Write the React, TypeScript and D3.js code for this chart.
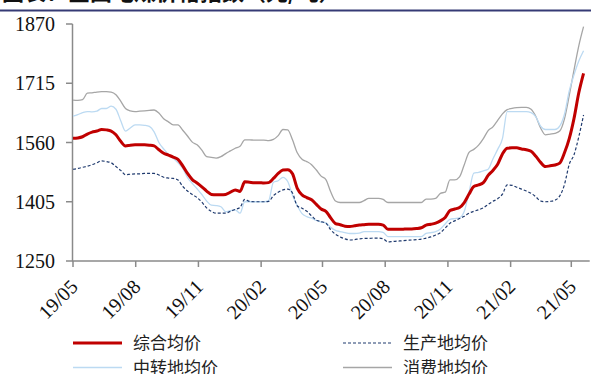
import React from "react";
import * as d3 from "d3";

// Weekly observations starting 2019-05-01
const startDate = new Date(2019, 4, 1);

const composite = [
  1571, 1572, 1575, 1582, 1587, 1590, 1594, 1593, 1590, 1580, 1563, 1551, 1553, 1554, 1554, 1554,
  1553, 1551, 1541, 1532, 1527, 1522, 1516, 1499, 1479, 1463, 1454, 1444, 1433, 1424, 1423, 1423,
  1424, 1430, 1436, 1432, 1457, 1456, 1455, 1455, 1454, 1455, 1466, 1479, 1488, 1489, 1478, 1440,
  1423, 1416, 1410, 1398, 1386, 1380, 1363, 1348, 1345, 1341, 1340, 1342, 1344, 1345, 1346, 1346,
  1346, 1344, 1333, 1333, 1333, 1333, 1334, 1334, 1335, 1337, 1344, 1346, 1349, 1355, 1364, 1382,
  1386, 1390, 1403, 1425, 1445, 1449, 1455, 1474, 1487, 1503, 1530, 1545, 1546, 1546, 1543, 1541,
  1537, 1524, 1508, 1497, 1499, 1501, 1506, 1533, 1570, 1623, 1690, 1741,
];

const production = [
  1490, 1492, 1495, 1498, 1502, 1507, 1512, 1510, 1507, 1497, 1487, 1476, 1477, 1478, 1478, 1479,
  1479, 1479, 1475, 1469, 1467, 1466, 1462, 1445, 1433, 1424, 1416, 1404, 1389, 1380, 1375, 1375,
  1375, 1380, 1385, 1390, 1411, 1406, 1405, 1405, 1405, 1406, 1421, 1430, 1436, 1438, 1428, 1394,
  1388, 1380, 1368, 1357, 1353, 1349, 1332, 1320, 1313, 1308, 1305, 1306, 1308, 1309, 1309, 1310,
  1310, 1308, 1300, 1301, 1302, 1303, 1304, 1305, 1306, 1307, 1310, 1313, 1318, 1324, 1336, 1349,
  1355, 1361, 1367, 1375, 1380, 1384, 1389, 1398, 1406, 1413, 1425, 1449, 1448, 1443, 1438, 1433,
  1427, 1418, 1407, 1405, 1406, 1409, 1420, 1450, 1503, 1528, 1575, 1632,
];

const transit = [
  1629, 1633, 1638, 1641, 1640, 1642, 1649, 1649, 1655, 1647, 1617, 1590, 1598, 1606, 1606, 1605,
  1602, 1588, 1560, 1543, 1529, 1519, 1507, 1492, 1468, 1453, 1439, 1424, 1407, 1396, 1395, 1392,
  1379, 1382, 1384, 1375, 1405, 1405, 1405, 1405, 1405, 1408, 1456, 1460, 1469, 1458, 1422, 1395,
  1374, 1366, 1362, 1356, 1352, 1350, 1338, 1330, 1327, 1324, 1322, 1322, 1323, 1327, 1327, 1327,
  1327, 1325, 1314, 1314, 1314, 1314, 1314, 1314, 1314, 1314, 1322, 1324, 1327, 1334, 1347, 1359,
  1361, 1363, 1380, 1430, 1480, 1482, 1486, 1490, 1517, 1542, 1570, 1641, 1641, 1641, 1641, 1641,
  1638, 1627, 1603, 1594, 1594, 1594, 1603, 1634, 1695, 1737, 1773, 1800,
];

const consumption = [
  1671, 1670, 1672, 1689, 1690, 1692, 1693, 1693, 1692, 1685, 1668, 1649, 1643, 1641, 1642, 1643,
  1644, 1645, 1637, 1622, 1614, 1606, 1606, 1592, 1577, 1561, 1554, 1540, 1523, 1521, 1519, 1523,
  1531, 1538, 1545, 1550, 1567, 1567, 1566, 1566, 1566, 1565, 1568, 1578, 1594, 1593, 1567, 1533,
  1516, 1510, 1502, 1488, 1472, 1463, 1431, 1407, 1403, 1403, 1403, 1403, 1403, 1408, 1414, 1414,
  1414, 1411, 1403, 1403, 1403, 1403, 1403, 1403, 1403, 1403, 1412, 1412, 1414, 1427, 1430, 1462,
  1462, 1470, 1502, 1534, 1542, 1553, 1570, 1591, 1601, 1618, 1635, 1646, 1649, 1651, 1652, 1652,
  1647, 1628, 1598, 1580, 1582, 1584, 1590, 1622, 1683, 1750, 1813, 1863,
];

const yTicks = [1250, 1405, 1560, 1715, 1870];
const xTickLabels = ["19/05", "19/08", "19/11", "20/02", "20/05", "20/08", "20/11", "21/02", "21/05"];
const xTickDates = [
  new Date(2019, 4, 1), new Date(2019, 7, 1), new Date(2019, 10, 1), new Date(2020, 1, 1),
  new Date(2020, 4, 1), new Date(2020, 7, 1), new Date(2020, 10, 1), new Date(2021, 1, 1),
  new Date(2021, 4, 1),
];

const seriesNames = ["综合均价", "生产地均价", "中转地均价", "消费地均价"];

const dates = composite.map((_, i) => d3.timeDay.offset(startDate, 7 * i));

const W = 591;
const H = 374;

export default function App() {
  const x = d3
    .scaleTime()
    .domain([startDate, new Date(2021, 4, 28)])
    .range([73, 589.7]);
  const y = d3.scaleLinear().domain([1250, 1870]).range([261, 24]);

  const line = (vals: number[]) =>
    d3
      .line<number>()
      .x((_, i) => x(dates[i]))
      .y((v) => y(v))
      .curve(d3.curveMonotoneX)(vals) as string;

  const styles = [
    { data: composite, stroke: "#c00000", width: 3, dash: undefined },
    { data: production, stroke: "#1f3a6e", width: 1.2, dash: "3,2" },
    { data: transit, stroke: "#bcdaf2", width: 1.3, dash: undefined },
    { data: consumption, stroke: "#a6a6a6", width: 1.3, dash: undefined },
  ];
  const drawOrder = [3, 2, 1, 0];

  const axisColor = "#8a8a8a";
  const serif = "'Liberation Serif', 'Times New Roman', serif";
  const cjk = "'Noto Sans CJK SC', sans-serif";

  const legend = [
    { lx: 73, ly: 343, tx: 133, idx: 0 },
    { lx: 343, ly: 343, tx: 403, idx: 1 },
    { lx: 73, ly: 367.5, tx: 133, idx: 2 },
    { lx: 343, ly: 367.5, tx: 403, idx: 3 },
  ];

  return (
    <>
      <style>{`body{margin:0;}`}</style>
      <svg width={W} height={H} style={{ display: "block", background: "#fff" }}>
        {/* heading and rule */}
        <text x={2} y={0} fontFamily={cjk} fontSize={22} fontWeight={700} fill="#111">
          图表：全国电煤价格指数（元/吨）
        </text>
        <line x1={0} x2={W} y1={10.5} y2={10.5} stroke="#353a75" strokeWidth={2} />

        {/* y axis */}
        <line x1={72.5} x2={72.5} y1={y(1870)} y2={y(1250)} stroke={axisColor} strokeWidth={1.5} />
        {yTicks.map((t) => (
          <g key={t}>
            <line x1={66} x2={72.5} y1={y(t)} y2={y(t)} stroke={axisColor} strokeWidth={1.5} />
            <text
              x={55}
              y={y(t)}
              dy="0.35em"
              textAnchor="end"
              fontFamily={serif}
              fontSize={20}
              fill="#111"
            >
              {t}
            </text>
          </g>
        ))}

        {/* x axis */}
        <line x1={72} x2={x.range()[1]} y1={261} y2={261} stroke={axisColor} strokeWidth={1.5} />
        {xTickDates.map((d, i) => {
          const px = x(d);
          return (
            <g key={xTickLabels[i]}>
              <line x1={px} x2={px} y1={261} y2={267} stroke={axisColor} strokeWidth={1.5} />
              <text
                transform={`translate(${px + 6},${288}) rotate(-45)`}
                textAnchor="end"
                fontFamily={serif}
                fontSize={20}
                fill="#111"
              >
                {xTickLabels[i]}
              </text>
            </g>
          );
        })}

        {/* series */}
        {drawOrder.map((k) => (
          <path
            key={seriesNames[k]}
            d={line(styles[k].data)}
            fill="none"
            stroke={styles[k].stroke}
            strokeWidth={styles[k].width}
            strokeDasharray={styles[k].dash}
            strokeLinejoin="round"
          />
        ))}

        {/* legend */}
        {legend.map((l) => (
          <g key={seriesNames[l.idx]}>
            <line
              x1={l.lx}
              x2={l.lx + 49}
              y1={l.ly}
              y2={l.ly}
              stroke={styles[l.idx].stroke}
              strokeWidth={styles[l.idx].width}
              strokeDasharray={styles[l.idx].dash}
            />
            <text
              x={l.tx}
              y={l.ly}
              dy="0.36em"
              fontFamily={cjk}
              fontSize={17}
              fill="#222"
            >
              {seriesNames[l.idx]}
            </text>
          </g>
        ))}
      </svg>
    </>
  );
}
